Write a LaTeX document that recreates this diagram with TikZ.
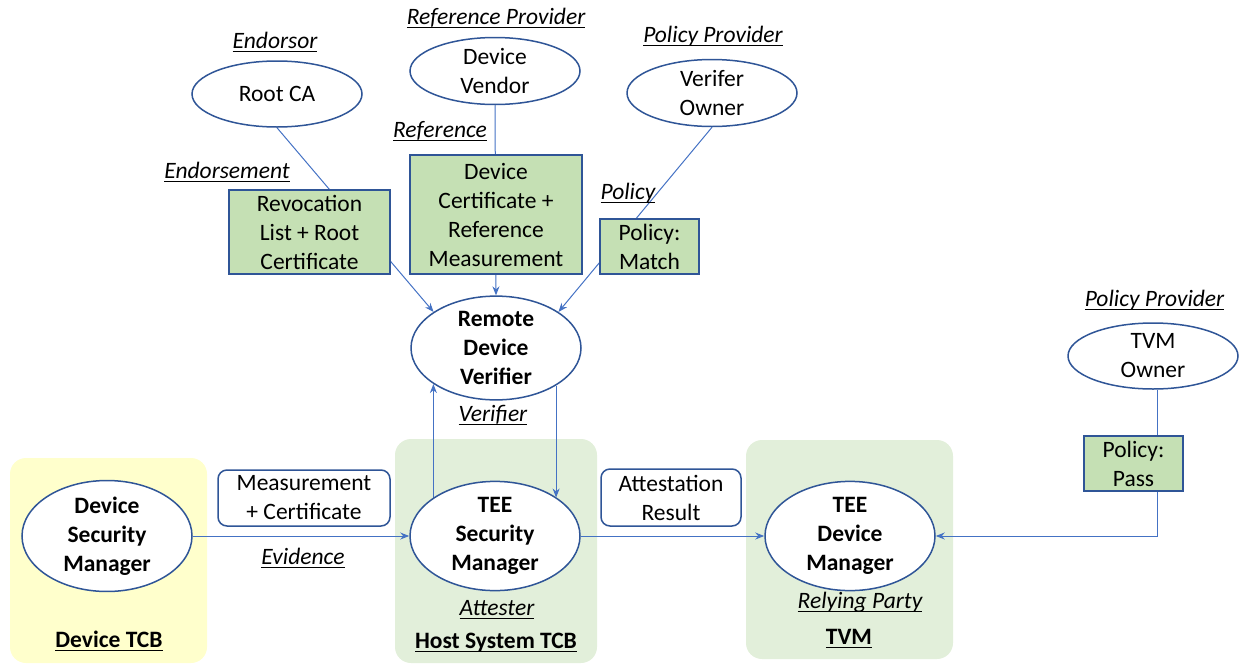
\documentclass[tikz,border=0pt]{standalone}
\usepackage{fontspec}
\setmainfont{Carlito}
\usetikzlibrary{shapes.geometric,arrows.meta}
\definecolor{ellb}{HTML}{2F5597}
\definecolor{conn}{HTML}{4472C4}
\definecolor{gfill}{HTML}{C5E0B4}
\definecolor{ypanel}{HTML}{FFFFCC}
\definecolor{gpanel}{HTML}{E2EFDA}
\newcommand\myul[1]{\vtop{\hbox{\raisebox{0pt}[\height][0pt]{#1}}\kern3pt\hrule height 1.3pt}}
\newcommand\fs{\fontsize{23.5}{29}\selectfont}
\pgfdeclarelayer{panels}
\pgfdeclarelayer{lines}
\pgfsetlayers{panels,lines,main}
\begin{document}
\begin{tikzpicture}[x=1pt,y=-1pt,
 every node/.style={font=\fs, inner sep=0pt, text=black},
 ell/.style={ellipse, draw=ellb, line width=1.5pt, fill=white, minimum width=170pt, align=center},
 small/.style={ell, minimum height=66pt},
 big/.style={ell, minimum height=103pt, font=\fs\bfseries},
 gbox/.style={draw=ellb, fill=gfill, line width=1.8pt, align=center},
 wbox/.style={draw=ellb, fill=white, line width=1.5pt, rounded corners=9pt, align=center},
 lab/.style={anchor=base, font=\fs\itshape},
 plab/.style={anchor=base, font=\fs\bfseries},
 panel/.style={rounded corners=16pt, draw=none},
 ar/.style={draw=conn, line width=1pt, -{Stealth[length=9pt,width=7pt]}},
]
\useasboundingbox (0,0) rectangle (1239,664);

% panels
\begin{pgfonlayer}{panels}
\fill[panel, ypanel] (10,458) rectangle (207,663);
\fill[panel, gpanel] (395,439) rectangle (597,663);
\fill[panel, gpanel] (746,440) rectangle (953,659);
\end{pgfonlayer}

% ellipses
\node[small] (rootca) at (277,94) {Root CA};
\node[small, minimum height=67pt] (vendor) at (495,71) {Device\\Vendor};
\node[small, minimum height=67pt] (vowner) at (712,93) {Verifer\\Owner};
\node[small] (tvmowner) at (1153,356) {TVM\\Owner};
\node[big] (verifier) at (496,348) {Remote\\Device\\Verifier};
\node[big] (dsm) at (107,536) {Device\\Security\\Manager};
\node[big] (tsm) at (495,536) {TEE\\Security\\Manager};
\node[big] (tdm) at (850,536) {TEE\\Device\\Manager};

% boxes
\node[gbox, minimum width=161pt, minimum height=84pt] (revoc) at (309.5,232) {Revocation\\List + Root\\Certificate};
\node[gbox, minimum width=172pt, minimum height=119pt] (devcert) at (496,214.5) {Device\\Certificate +\\Reference\\Measurement};
\node[gbox, minimum width=99pt, minimum height=55pt] (pmatch) at (649.5,246.5) {Policy:\\Match};
\node[gbox, minimum width=99pt, minimum height=55pt] (ppass) at (1133.5,463.5) {Policy:\\Pass};
\node[wbox, minimum width=172pt, minimum height=56pt] (meas) at (304,498) {Measurement\\+ Certificate};
\node[wbox, minimum width=140pt, minimum height=57pt] (attres) at (671,497.5) {Attestation\\Result};

% connectors
\begin{pgfonlayer}{lines}
\draw[ar] (rootca.south) -- (verifier.150);
\draw[ar] (vendor.south) -- (verifier.north);
\draw[ar] (vowner.south) -- (verifier.30);
\draw[ar] (tsm.148) -- (tsm.148 |- verifier.210);
\draw[ar] (verifier.328) -- (verifier.328 |- tsm.32);
\draw[ar] (dsm.east) -- (tsm.west);
\draw[ar] (tsm.east) -- (tdm.west);
\draw[ar] ([xshift=4pt]tvmowner.south) -- ([xshift=4pt]tvmowner.south |- tdm.east) -- (tdm.east);
\end{pgfonlayer}

% labels
\node[lab] (l1) at (275,48) {\myul{Endorsor}};
\node[lab] (l2) at (496,24) {\myul{Reference Provider}};
\node[lab] (l3) at (713,42) {\myul{Policy Provider}};
\node[lab] (l4) at (440,137) {\myul{Reference}};
\node[lab] (l5) at (227,178) {\myul{Endorsement}};
\node[lab] (l6) at (628,199) {\myul{Policy}};
\node[lab] (l7) at (493,421) {\myul{Verifier}};
\node[lab] (l8) at (303,564) {\myul{Evidence}};
\node[lab] (l9) at (497,615) {\myul{Attester}};
\node[lab] (l10) at (860,608) {\myul{Relying Party}};
\node[lab] (l11) at (1154.5,306) {\myul{Policy Provider}};
\node[plab] (p1) at (109,647) {\myul{Device TCB}};
\node[plab] (p2) at (496,648) {\myul{Host System TCB}};
\node[plab] (p3) at (849,644) {\myul{TVM}};
\end{tikzpicture}
\end{document}
